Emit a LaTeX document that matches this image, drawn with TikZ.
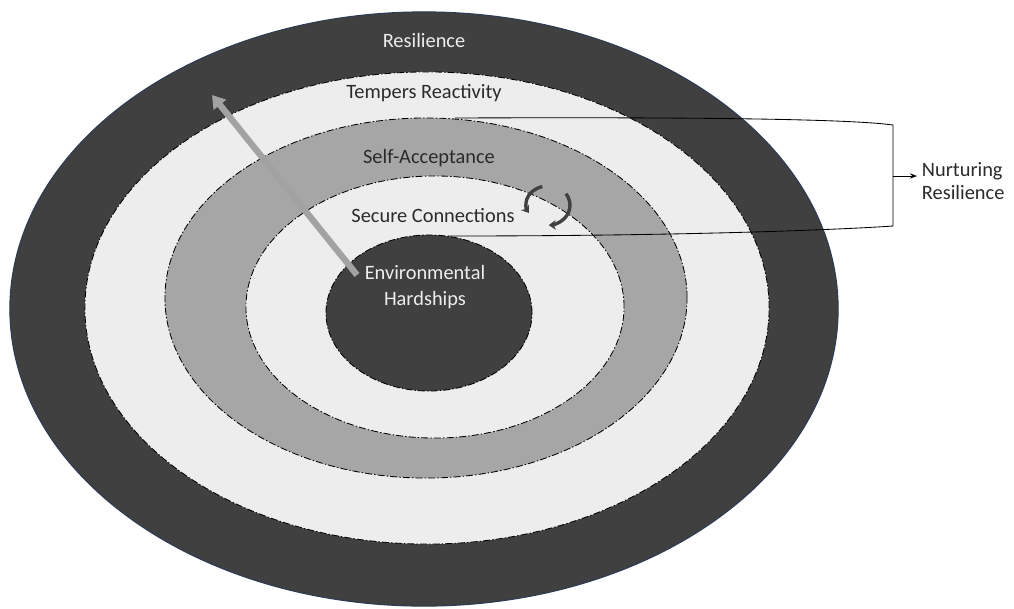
\documentclass[tikz,border=0pt]{standalone}
\usepackage{fontspec}
\setmainfont{Carlito}
\usetikzlibrary{shapes,arrows.meta}

\definecolor{ringdark}{HTML}{404040}
\definecolor{ringlight}{HTML}{EDEDED}
\definecolor{ringmid}{HTML}{A6A6A6}
\definecolor{rimblue}{HTML}{2E3B52}
\definecolor{arrowgray}{HTML}{A2A2A2}
\definecolor{inktext}{HTML}{2B2B2B}

\begin{document}
\begin{tikzpicture}[x=0.025cm,y=-0.025cm]

	\tikzset{ring/.style={ellipse,inner sep=0pt},
		rimline/.style={draw=black,line width=0.6pt,dash pattern=on 5pt off 1.5pt on 1pt off 1.5pt},
		lbl/.style={font=\fontsize{14.5}{16}\selectfont,text=inktext},
		cycarrow/.style={draw=ringdark,line width=2.4pt,-{Stealth[length=5pt,width=7pt]}}}

	\useasboundingbox[fill=white] (0,0) rectangle (1014,608);

	% the rings, outside in
	\node[ring,fill=ringdark,draw=rimblue,line width=0.8pt,minimum width=20.7cm,minimum height=14.85cm] (resil) at (424,309) {};
	\node[ring,rimline,fill=ringlight,minimum width=17.1cm,minimum height=11.8cm] (tempers) at (427,308) {};
	\node[ring,rimline,fill=ringmid,minimum width=13.05cm,minimum height=9cm] (selfacc) at (426,298) {};
	\node[ring,rimline,fill=ringlight,minimum width=9.45cm,minimum height=6.55cm] (secure) at (435,307) {};
	\node[ring,rimline,fill=ringdark,minimum width=5.15cm,minimum height=3.9cm] (hard) at (429,313) {};

	\node[lbl,text=ringlight] (tresil) at (424,40) {Resilience};
	\node[lbl] (ttemp) at (424,93) {Tempers Reactivity};
	\node[lbl] (tself) at (429,158) {Self-Acceptance};
	\node[lbl] (tsec) at (433,216) {Secure Connections};
	\node[lbl,text=ringlight,align=center] (thard) at (425,287) {Environmental\\[3pt]Hardships};

	% gray arrow out of the centre
	\coordinate (gtail) at (357,275);
	\coordinate (ghead) at (212,95);
	\draw[line width=4.5pt,color=arrowgray,-{Triangle[length=9pt,width=11pt]}] (gtail) -- (ghead);

	% the two turning arrows
	\coordinate (cyc) at (548,204);
	\draw[cycarrow] (cyc) ++(255:22 and 18) arc[start angle=255,end angle=150,x radius=22,y radius=18];
	\draw[cycarrow] (cyc) ++(-35:22 and 18) arc[start angle=-35,end angle=88,x radius=22,y radius=20];

	% bracket
	\node[lbl,align=left,anchor=west] (nurt) at (917,181) {Nurturing\\Resilience};
	\coordinate (btop) at (455,118);
	\coordinate (bbot) at (448,236);
	\coordinate (ctop) at (893,125);
	\coordinate (cbot) at (893,226);
	\coordinate (cmid) at (893,176);
	\draw[line width=0.6pt] (btop) .. controls (700,117) and (850,119) .. (ctop) -- (cbot)
		.. controls (850,229) and (700,236) .. (bbot);
	\draw[line width=0.6pt,-{Stealth[length=5pt]}] (cmid) -- (cmid -| nurt.west);

\end{tikzpicture}
\end{document}
